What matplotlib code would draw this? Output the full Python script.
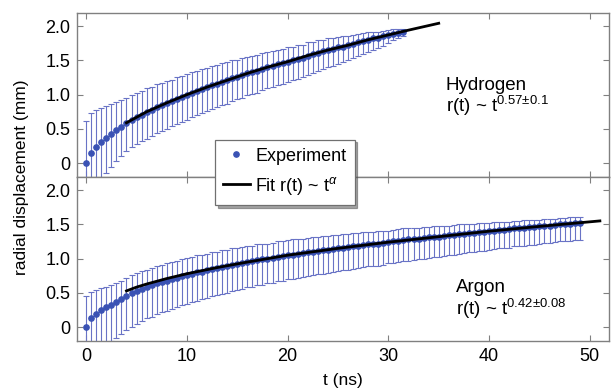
import matplotlib
matplotlib.use("Agg")
import matplotlib.pyplot as plt
from matplotlib.lines import Line2D

plt.rcParams["font.family"] = ["Liberation Sans", "DejaVu Sans"]
plt.rcParams["mathtext.fontset"] = "custom"
plt.rcParams["mathtext.rm"] = "Liberation Sans"
plt.rcParams["mathtext.it"] = "Liberation Sans:italic"

# Hydrogen: experiment (t in ns, r in mm) with asymmetric error bars
h_t = [0.0, 0.5, 1.0, 1.5, 2.0, 2.5, 3.0, 3.5, 4.0, 4.5,
       5.0, 5.5, 6.0, 6.5, 7.0, 7.5, 8.0, 8.5, 9.0, 9.5,
       10.0, 10.5, 11.0, 11.5, 12.0, 12.5, 13.0, 13.5, 14.0, 14.5,
       15.0, 15.5, 16.0, 16.5, 17.0, 17.5, 18.0, 18.5, 19.0, 19.5,
       20.0, 20.5, 21.0, 21.5, 22.0, 22.5, 23.0, 23.5, 24.0, 24.5,
       25.0, 25.5, 26.0, 26.5, 27.0, 27.5, 28.0, 28.5, 29.0, 29.5,
       30.0, 30.5, 31.0, 31.5]
h_r = [0.00, 0.15, 0.24, 0.31, 0.37, 0.43, 0.48, 0.53, 0.58, 0.63,
       0.67, 0.71, 0.75, 0.78, 0.82, 0.85, 0.88, 0.91, 0.94, 0.97,
       1.00, 1.03, 1.06, 1.08, 1.11, 1.14, 1.16, 1.19, 1.21, 1.24,
       1.26, 1.28, 1.31, 1.33, 1.35, 1.38, 1.40, 1.42, 1.44, 1.46,
       1.48, 1.50, 1.52, 1.54, 1.57, 1.59, 1.61, 1.63, 1.65, 1.67,
       1.69, 1.70, 1.72, 1.74, 1.76, 1.78, 1.80, 1.82, 1.83, 1.85,
       1.87, 1.89, 1.90, 1.92]
h_err_hi = [0.62, 0.58, 0.54, 0.50, 0.47, 0.44, 0.41, 0.39, 0.37, 0.36,
            0.35, 0.34, 0.34, 0.33, 0.33, 0.32, 0.32, 0.31, 0.31, 0.30,
            0.30, 0.30, 0.29, 0.29, 0.28, 0.28, 0.27, 0.27, 0.26, 0.26,
            0.25, 0.25, 0.24, 0.24, 0.23, 0.23, 0.22, 0.22, 0.21, 0.21,
            0.21, 0.20, 0.20, 0.19, 0.19, 0.18, 0.18, 0.17, 0.17, 0.16,
            0.15, 0.15, 0.14, 0.13, 0.13, 0.12, 0.11, 0.10, 0.09, 0.08,
            0.07, 0.06, 0.05, 0.04]
h_err_lo = [0.62, 0.60, 0.57, 0.54, 0.51, 0.48, 0.45, 0.42, 0.40, 0.40,
            0.39, 0.39, 0.39, 0.38, 0.38, 0.38, 0.38, 0.37, 0.37, 0.37,
            0.37, 0.36, 0.36, 0.35, 0.35, 0.35, 0.34, 0.34, 0.34, 0.33,
            0.33, 0.33, 0.32, 0.32, 0.32, 0.31, 0.31, 0.31, 0.30, 0.30,
            0.30, 0.29, 0.29, 0.28, 0.28, 0.27, 0.27, 0.26, 0.25, 0.25,
            0.24, 0.23, 0.22, 0.21, 0.20, 0.19, 0.18, 0.17, 0.15, 0.14,
            0.12, 0.10, 0.08, 0.07]
h_fit_t = [4, 5, 6, 8, 10, 12, 14, 16, 18, 20, 22, 24, 26, 28, 30, 32, 35]
h_fit_r = [0.59, 0.67, 0.75, 0.88, 1.00, 1.11, 1.21, 1.31, 1.40, 1.48,
           1.57, 1.65, 1.72, 1.80, 1.87, 1.94, 2.04]

# Argon
a_t = [0.0, 0.5, 1.0, 1.5, 2.0, 2.5, 3.0, 3.5, 4.0, 4.5,
       5.0, 5.5, 6.0, 6.5, 7.0, 7.5, 8.0, 8.5, 9.0, 9.5,
       10.0, 10.5, 11.0, 11.5, 12.0, 12.5, 13.0, 13.5, 14.0, 14.5,
       15.0, 15.5, 16.0, 16.5, 17.0, 17.5, 18.0, 18.5, 19.0, 19.5,
       20.0, 20.5, 21.0, 21.5, 22.0, 22.5, 23.0, 23.5, 24.0, 24.5,
       25.0, 25.5, 26.0, 26.5, 27.0, 27.5, 28.0, 28.5, 29.0, 29.5,
       30.0, 30.5, 31.0, 31.5, 32.0, 32.5, 33.0, 33.5, 34.0, 34.5,
       35.0, 35.5, 36.0, 36.5, 37.0, 37.5, 38.0, 38.5, 39.0, 39.5,
       40.0, 40.5, 41.0, 41.5, 42.0, 42.5, 43.0, 43.5, 44.0, 44.5,
       45.0, 45.5, 46.0, 46.5, 47.0, 47.5, 48.0, 48.5, 49.0]
a_r = [0.00, 0.13, 0.20, 0.25, 0.29, 0.33, 0.37, 0.41, 0.46, 0.50,
       0.53, 0.56, 0.59, 0.61, 0.64, 0.66, 0.68, 0.70, 0.72, 0.74,
       0.76, 0.78, 0.80, 0.81, 0.83, 0.85, 0.86, 0.88, 0.89, 0.91,
       0.92, 0.94, 0.95, 0.96, 0.98, 0.99, 1.00, 1.01, 1.03, 1.04,
       1.05, 1.06, 1.07, 1.08, 1.09, 1.10, 1.11, 1.12, 1.13, 1.14,
       1.15, 1.16, 1.17, 1.18, 1.19, 1.20, 1.21, 1.21, 1.22, 1.23,
       1.24, 1.25, 1.26, 1.27, 1.28, 1.28, 1.29, 1.30, 1.31, 1.32,
       1.32, 1.33, 1.34, 1.35, 1.36, 1.36, 1.37, 1.38, 1.39, 1.39,
       1.40, 1.41, 1.42, 1.42, 1.43, 1.44, 1.44, 1.45, 1.46, 1.46,
       1.47, 1.48, 1.48, 1.49, 1.50, 1.50, 1.51, 1.52, 1.52]
a_err_hi = [0.45, 0.38, 0.34, 0.32, 0.30, 0.29, 0.28, 0.27, 0.26, 0.26,
            0.26, 0.26, 0.25, 0.25, 0.25, 0.25, 0.25, 0.25, 0.25, 0.25,
            0.25, 0.25, 0.25, 0.25, 0.24, 0.24, 0.24, 0.24, 0.24, 0.24,
            0.23, 0.23, 0.23, 0.23, 0.23, 0.23, 0.22, 0.22, 0.22, 0.22,
            0.22, 0.22, 0.22, 0.21, 0.21, 0.21, 0.21, 0.21, 0.20, 0.20,
            0.20, 0.20, 0.19, 0.19, 0.19, 0.19, 0.18, 0.18, 0.18, 0.18,
            0.17, 0.17, 0.17, 0.17, 0.16, 0.16, 0.16, 0.16, 0.15, 0.15,
            0.15, 0.15, 0.14, 0.14, 0.14, 0.14, 0.13, 0.13, 0.13, 0.13,
            0.12, 0.12, 0.12, 0.12, 0.11, 0.11, 0.11, 0.11, 0.10, 0.10,
            0.10, 0.10, 0.10, 0.09, 0.09, 0.09, 0.09, 0.09, 0.09]
a_err_lo = [0.60, 0.58, 0.56, 0.55, 0.54, 0.53, 0.52, 0.51, 0.50, 0.49,
            0.48, 0.47, 0.46, 0.46, 0.45, 0.44, 0.44, 0.43, 0.43, 0.42,
            0.42, 0.41, 0.41, 0.40, 0.40, 0.40, 0.39, 0.39, 0.39, 0.38,
            0.38, 0.38, 0.37, 0.37, 0.37, 0.37, 0.36, 0.36, 0.36, 0.36,
            0.35, 0.35, 0.35, 0.35, 0.34, 0.34, 0.34, 0.34, 0.34, 0.33,
            0.33, 0.33, 0.33, 0.33, 0.33, 0.32, 0.32, 0.32, 0.32, 0.32,
            0.31, 0.31, 0.31, 0.31, 0.31, 0.30, 0.30, 0.30, 0.30, 0.30,
            0.29, 0.29, 0.29, 0.29, 0.29, 0.28, 0.28, 0.28, 0.28, 0.28,
            0.27, 0.27, 0.27, 0.27, 0.27, 0.26, 0.26, 0.26, 0.26, 0.26,
            0.26, 0.25, 0.25, 0.25, 0.25, 0.25, 0.25, 0.25, 0.25]
a_fit_t = [4, 5, 6, 8, 10, 13, 16, 20, 25, 30, 35, 40, 45, 51]
a_fit_r = [0.53, 0.585, 0.63, 0.71, 0.78, 0.87, 0.95, 1.05, 1.15,
           1.24, 1.32, 1.40, 1.47, 1.55]

y_ticks = [0, 0.5, 1.0, 1.5, 2.0]
y_ticklabels = ["0", "0.5", "1.0", "1.5", "2.0"]
x_ticks = [0, 10, 20, 30, 40, 50]

pt_color = "#3a52b4"
bar_color = "#6973c6"
spine_color = "#808080"

fig = plt.figure(figsize=(6.12, 3.89), dpi=100)
ax_top = fig.add_axes([0.126, 0.545, 0.869, 0.4216])
ax_bot = fig.add_axes([0.126, 0.1234, 0.869, 0.4216])

panels = [
    (ax_top, h_t, h_r, h_err_lo, h_err_hi, h_fit_t, h_fit_r),
    (ax_bot, a_t, a_r, a_err_lo, a_err_hi, a_fit_t, a_fit_r),
]
for ax, t, r, elo, ehi, ft, fr in panels:
    ax.errorbar(t, r, yerr=[elo, ehi], fmt="none", ecolor=bar_color,
                elinewidth=0.8, capsize=2.0, capthick=0.8, zorder=2)
    ax.plot(t, r, "o", color=pt_color, ms=3.8, mec=pt_color, zorder=3)
    ax.plot(ft, fr, "-", color="black", lw=2.0, zorder=4)
    ax.set_xlim(-0.9, 51.9)
    ax.set_ylim(-0.2, 2.19)
    ax.set_xticks(x_ticks)
    ax.set_yticks(y_ticks)
    ax.set_yticklabels(y_ticklabels)
    ax.tick_params(direction="in", top=True, right=True, length=4,
                   color=spine_color, labelsize=13, pad=5)
    for sp in ax.spines.values():
        sp.set_color(spine_color)
        sp.set_linewidth(1.0)

ax_top.tick_params(labelbottom=False)

ax_top.text(35.7, 1.075, "Hydrogen", fontsize=13.5, va="baseline")
ax_top.text(35.7, 0.75, r"r(t) ~ t$^{\mathregular{0.57±0.1}}$", fontsize=13.5, va="baseline")

ax_bot.text(36.7, 0.52, "Argon", fontsize=13.5, va="baseline")
ax_bot.text(36.7, 0.18, r"r(t) ~ t$^{\mathregular{0.42±0.08}}$", fontsize=13.5, va="baseline")

ax_bot.set_xlabel("t (ns)", fontsize=12.5, labelpad=6)
fig.text(0.035, 0.545, "radial displacement (mm)", rotation=90,
         ha="center", va="center", fontsize=12.5)

handles = [
    Line2D([], [], ls="none", marker="o", color=pt_color, ms=3.8),
    Line2D([], [], ls="-", color="black", lw=2.0),
]
labels = ["Experiment", r"Fit r(t) ~ t$^{\alpha}$"]
leg = fig.legend(handles, labels, loc="upper left",
                 bbox_to_anchor=(0.351, 0.641), fontsize=13,
                 frameon=True, fancybox=False, shadow=True,
                 handlelength=1.5, handletextpad=0.3, borderpad=0.45,
                 labelspacing=0.55, borderaxespad=0)
leg.get_frame().set_edgecolor("#707070")
leg.get_frame().set_linewidth(0.9)

fig.savefig("out.png", dpi=100)
